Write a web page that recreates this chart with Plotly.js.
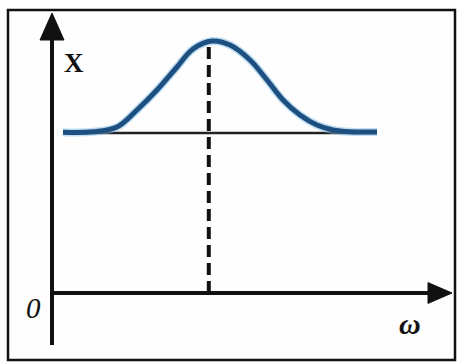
<!DOCTYPE html>
<html>
<head>
<meta charset="utf-8">
<script src="https://cdn.plot.ly/plotly-3.0.1.min.js"></script>
<style>html,body{margin:0;padding:0;background:#fff;}#chart{width:458px;height:364px;}</style>
</head>
<body>
<div id="chart"></div>
<script>
// Data (ω on horizontal axis, X on vertical axis)
const omega = [0.275, 1.025, 1.625, 2.125, 2.625, 3.125, 3.525, 4.0, 4.45, 4.95, 5.375, 5.775, 6.2, 6.625, 7.025, 7.45, 8.125];
const X = [4.02, 4.03, 4.15, 4.575, 5.075, 5.65, 6.1, 6.3, 6.2, 5.825, 5.325, 4.825, 4.45, 4.2, 4.075, 4.03, 4.025];
const baselineX = 4.0;
const baselineOmega = [0.275, 8.125];
const axisLabels = {y: "X", origin: "0", x: "ω"};

const iPeak = X.indexOf(Math.max(...X));
const peakOmega = omega[iPeak];
const peakX = X[iPeak];

const traces = [
  {x: baselineOmega, y: [baselineX, baselineX], mode: "lines", line: {color: "#222", width: 2.5}, hoverinfo: "skip"},
  {x: omega, y: X, mode: "lines", line: {color: "#7fbde8", width: 8, shape: "spline", smoothing: 1}, opacity: 0.5, hoverinfo: "skip"},
  {x: omega, y: X, mode: "lines", line: {color: "#1d4f80", width: 5, shape: "spline", smoothing: 1}, hoverinfo: "skip"}
];

const layout = {
  width: 458, height: 364,
  margin: {l: 0, r: 0, t: 0, b: 0},
  paper_bgcolor: "#fefefe", plot_bgcolor: "#fefefe",
  showlegend: false,
  xaxis: {range: [-1.3, 10.15], visible: false, fixedrange: true},
  yaxis: {range: [-1.775, 7.325], visible: false, fixedrange: true},
  shapes: [
    // frame
    {type: "rect", xref: "paper", yref: "paper", x0: 8/458, x1: 455/458, y0: 1 - 360/364, y1: 1 - 10/364, line: {color: "#111", width: 2.5}},
    // vertical axis
    {type: "line", x0: 0, x1: 0, y0: -1.3, y1: 6.5, line: {color: "#111", width: 4}},
    {type: "path", path: "M -0.3 6.325 L 0 7.0 L 0.3 6.325 Z", fillcolor: "#111", line: {color: "#111", width: 1}},
    // horizontal axis
    {type: "line", x0: 0, x1: 9.6, y0: 0, y1: 0, line: {color: "#111", width: 4}},
    {type: "path", path: "M 9.4 0.26 L 10.0 0 L 9.4 -0.26 Z", fillcolor: "#111", line: {color: "#111", width: 1}},
    // dashed line at peak
    {type: "line", x0: peakOmega - 0.08, x1: peakOmega - 0.08, y0: 0, y1: peakX - 0.1, line: {color: "#111", width: 4, dash: "12px,6px"}}
  ],
  annotations: [
    {x: 0.55, y: 5.75, text: "<b>" + axisLabels.y + "</b>", showarrow: false, font: {family: "Liberation Serif", size: 27, color: "#111"}},
    {x: -0.47, y: -0.38, text: "<i>" + axisLabels.origin + "</i>", showarrow: false, font: {family: "Liberation Serif", size: 29, color: "#111"}},
    {x: 8.95, y: -0.75, text: "<b><i>" + axisLabels.x + "</i></b>", showarrow: false, font: {family: "Liberation Serif", size: 30, color: "#111"}}
  ]
};

Plotly.newPlot("chart", traces, layout, {staticPlot: true, displayModeBar: false});
</script>
</body>
</html>
